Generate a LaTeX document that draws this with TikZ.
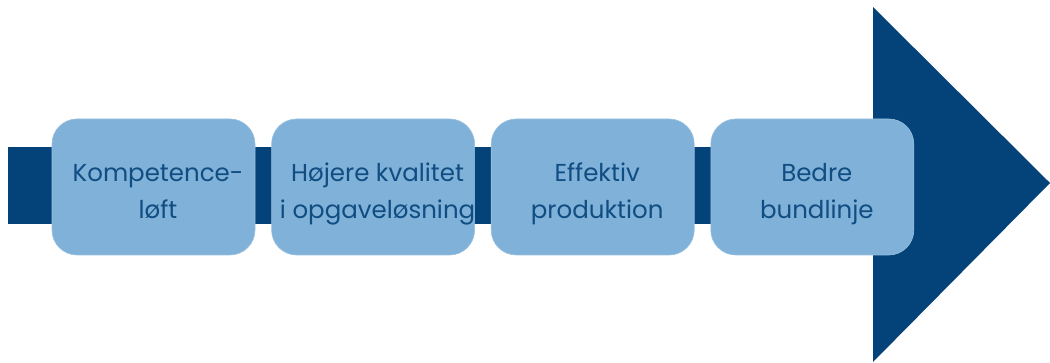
\documentclass[tikz,border=0pt]{standalone}
\usepackage{fontspec}
\setmainfont{Poppins}
\usetikzlibrary{positioning}
\definecolor{arrowblue}{HTML}{03437A}
\definecolor{boxblue}{HTML}{80B1D8}
\definecolor{textblue}{HTML}{0F4D82}
\newcommand{\steptext}[1]{\makebox[0pt][c]{\hspace{9pt}\raisebox{-6pt}[\height][\depth]{\begin{tabular}{@{}c@{}}#1\end{tabular}}}}
\tikzset{
  step_box/.style={
      fill=boxblue, draw=boxblue!80!white, line width=0.6pt,
      rounded corners=25pt, minimum width=203pt, minimum height=136pt,
      inner sep=0pt, text=textblue,
      font=\fontsize{24.5}{37}\selectfont}
}
\def\BoxGap {16pt}

\begin{document}
\begin{tikzpicture}[x=1pt,y=1pt]
        \useasboundingbox (0,0) rectangle (1050,363);
        % arrow
        \fill[arrowblue] (8,139) rectangle (874,216);
        \fill[arrowblue] (873,356) -- (1050,180) -- (873,1) -- cycle;
        % steps
        \node[step_box] (komp) at (153.5,176) {\steptext{Kompetence-\\løft}};
        \node[step_box, right=\BoxGap of komp] (kval) {\steptext{Højere kvalitet\\i opgaveløsning}};
        \node[step_box, right=\BoxGap of kval] (prod) {\steptext{Effektiv\\produktion}};
        \node[step_box, right=\BoxGap of prod] (bund) {\steptext{Bedre\\bundlinje}};
      \end{tikzpicture}
\end{document}
